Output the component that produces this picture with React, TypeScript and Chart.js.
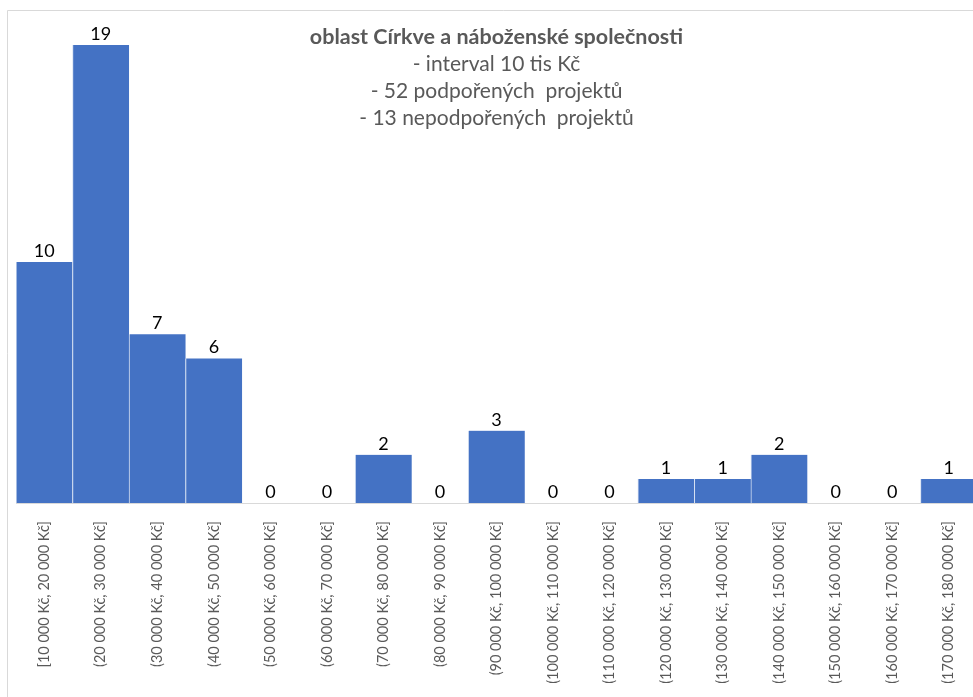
import React, { useEffect, useRef } from "react";
import { Chart, registerables } from "chart.js";

Chart.register(...registerables);

const categories = [
  "[10 000 Kč, 20 000 Kč]",
  "(20 000 Kč, 30 000 Kč]",
  "(30 000 Kč, 40 000 Kč]",
  "(40 000 Kč, 50 000 Kč]",
  "(50 000 Kč, 60 000 Kč]",
  "(60 000 Kč, 70 000 Kč]",
  "(70 000 Kč, 80 000 Kč]",
  "(80 000 Kč, 90 000 Kč]",
  "(90 000 Kč, 100 000 Kč]",
  "(100 000 Kč, 110 000 Kč]",
  "(110 000 Kč, 120 000 Kč]",
  "(120 000 Kč, 130 000 Kč]",
  "(130 000 Kč, 140 000 Kč]",
  "(140 000 Kč, 150 000 Kč]",
  "(150 000 Kč, 160 000 Kč]",
  "(160 000 Kč, 170 000 Kč]",
  "(170 000 Kč, 180 000 Kč]",
];

const counts = [10, 19, 7, 6, 0, 0, 2, 0, 3, 0, 0, 1, 1, 2, 0, 0, 1];

const titleBold = "oblast Církve a náboženské společnosti";
const titleLines = [
  "- interval 10 tis Kč",
  "- 52 podpořených  projektů",
  "- 13 nepodpořených  projektů",
];

const FONT = "Lato, 'Open Sans', sans-serif";

export default function App() {
  const ref = useRef<HTMLCanvasElement | null>(null);

  useEffect(() => {
    if (!ref.current) return;
    const decor = {
      id: "decor",
      beforeDraw(chart: any) {
        const ctx = chart.ctx;
        ctx.save();
        ctx.fillStyle = "#ffffff";
        ctx.fillRect(0, 0, chart.width, chart.height);
        ctx.strokeStyle = "#d9d9d9";
        ctx.lineWidth = 1;
        ctx.beginPath();
        ctx.moveTo(7.5, chart.height);
        ctx.lineTo(7.5, 10.5);
        ctx.lineTo(chart.width, 10.5);
        ctx.stroke();
        ctx.restore();
      },
      afterDraw(chart: any) {
        const ctx = chart.ctx;
        ctx.save();
        const cx = (chart.chartArea.left + chart.chartArea.right) / 2;
        ctx.textAlign = "center";
        ctx.textBaseline = "middle";
        ctx.fillStyle = "#595959";
        ctx.font = `bold 21.5px ${FONT}`;
        ctx.fillText(titleBold, cx, 37);
        ctx.font = `21px ${FONT}`;
        titleLines.forEach((t, i) => ctx.fillText(t, cx, 64 + i * 27));
        // data labels
        const meta = chart.getDatasetMeta(0);
        ctx.font = `18px ${FONT}`;
        ctx.fillStyle = "#000000";
        ctx.textBaseline = "bottom";
        meta.data.forEach((bar: any, i: number) => {
          ctx.fillText(String(counts[i]), bar.x, bar.y - 2);
        });
        ctx.restore();
      },
    };

    const chart = new Chart(ref.current, {
      type: "bar",
      data: {
        labels: categories,
        datasets: [
          {
            data: counts,
            backgroundColor: "#4472C4",
            borderColor: "#d6e0f2",
            borderWidth: { left: 1, right: 0, top: 0, bottom: 0 } as any,
            borderSkipped: false,
            categoryPercentage: 1,
            barPercentage: 1,
          },
        ],
      },
      options: {
        animation: false,
        responsive: false,
        devicePixelRatio: 1,
        layout: { padding: { left: 16, right: 23, top: 21, bottom: 0 } },
        plugins: {
          legend: { display: false },
          tooltip: { enabled: false },
          title: { display: false },
        },
        scales: {
          x: {
            grid: { display: false },
            border: { display: true, color: "#d9d9d9", width: 1 },
            ticks: {
              minRotation: 90,
              maxRotation: 90,
              autoSkip: false,
              padding: 10,
              color: "#595959",
              font: { family: FONT, size: 14.5 },
            },
            afterFit(scale: any) {
              scale.height = 194;
            },
          },
          y: {
            display: false,
            min: 0,
            max: 20,
          },
        },
      },
      plugins: [decor],
    });
    return () => chart.destroy();
  }, []);

  return (
    <div
      style={{
        position: "fixed",
        left: 0,
        top: 0,
        width: 973,
        height: 697,
        overflow: "hidden",
        background: "#fff",
      }}
    >
      <canvas ref={ref} width={1000} height={697} style={{ display: "block" }} />
    </div>
  );
}
